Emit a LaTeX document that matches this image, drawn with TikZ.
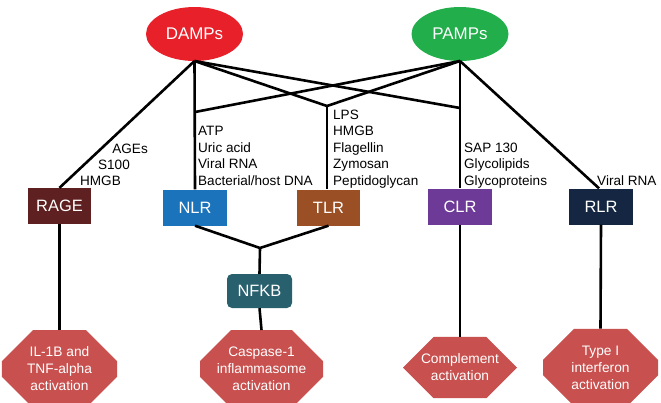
\documentclass[tikz,border=0pt]{standalone}
\usepackage{fontspec}
\setmainfont{Liberation Sans}
\usetikzlibrary{shapes.geometric,shapes.misc}
\definecolor{dampred}{HTML}{E8202A}
\definecolor{pampgreen}{HTML}{21AE4B}
\definecolor{ragec}{HTML}{5E2020}
\definecolor{nlrc}{HTML}{1B74BB}
\definecolor{tlrc}{HTML}{9B4F25}
\definecolor{clrc}{HTML}{6E3A97}
\definecolor{rlrc}{HTML}{142641}
\definecolor{nfkbc}{HTML}{28606E}
\definecolor{octc}{HTML}{C8504E}
\tikzset{
  pamp/.style={ellipse, minimum width=97bp, minimum height=54bp, inner sep=0pt, text=white,
    font=\fontsize{17}{20}\selectfont},
  recbox/.style={rectangle, minimum width=64bp, minimum height=36bp, inner sep=0pt, text=white,
    font=\fontsize{16.5}{19}\selectfont},
  outcome/.style={chamfered rectangle, chamfered rectangle xsep=14bp, chamfered rectangle ysep=17bp,
    fill=octc, minimum height=62bp, inner sep=0pt, text=white, align=center,
    font=\fontsize{13.8}{17}\selectfont},
  lig/.style={anchor=base west, inner sep=0pt, font=\fontsize{13.6}{16}\selectfont},
  ligr/.style={anchor=base east, inner sep=0pt, font=\fontsize{13.6}{16}\selectfont},
  conn/.style={line width=2.6bp, black, line join=miter}
}
\begin{document}
\begin{tikzpicture}[x=1bp,y=-1bp]
\useasboundingbox (0,0) rectangle (661,402);
% sources
\node[pamp, fill=dampred] (damps) at (194.5,34) {DAMPs};
\node[pamp, fill=pampgreen] (pamps) at (460,34) {PAMPs};
\coordinate (db) at (194.5,61);
\coordinate (pb) at (460,61);
% receptors
\node[recbox, fill=ragec, minimum width=63bp] (rage) at (59.5,206) {RAGE};
\node[recbox, fill=nlrc] (nlr) at (195,207.5) {NLR};
\node[recbox, fill=tlrc, minimum width=63bp] (tlr) at (328.5,207.5) {TLR};
\node[recbox, fill=clrc] (clr) at (460,206.5) {CLR};
\node[recbox, fill=rlrc] (rlr) at (601,206.5) {RLR};
\node[recbox, fill=nfkbc, minimum width=65bp, minimum height=34bp, rounded corners=5bp] (nfkb) at (259.5,291) {NFKB};
% outcomes
\node[outcome, minimum width=115bp] (o1) at (59.5,369) {IL-1B and\\TNF-alpha\\activation};
\node[outcome, minimum width=123bp] (o2) at (261.5,369) {Caspase-1\\inflammasome\\activation};
\node[outcome, minimum width=114bp, minimum height=61bp] (o3) at (460,367.5) {Complement\\activation};
\node[outcome, minimum width=115bp, minimum height=61bp] (o4) at (600.5,367.5) {Type I\\interferon\\activation};
% junctions
\coordinate (jn) at (195,112);
\coordinate (jt) at (327,106);
\coordinate (jc) at (460,108);
\coordinate (jk) at (260,248);
% connectors
\draw[conn] (db) -- (rage.north);
\draw[conn] (db) -- (nlr.north);
\draw[conn] (db) -- (jt);
\draw[conn] (db) -- (jc);
\draw[conn] (pb) -- (jn);
\draw[conn] (pb) -- (jt);
\draw[conn] (pb) -- (clr.north);
\draw[conn] (pb) -- (rlr.north west -| 599,0);
\draw[conn] (jt) -- (jt |- tlr.north);
\draw[conn] (rage.south) -- (o1.north);
\draw[conn] (nlr.south) -- (jk) -- (tlr.south);
\draw[conn] (jk) -- (nfkb.north);
\draw[conn] (nfkb.south) -- (o2.north);
\draw[conn] (clr.south) -- (o3.north);
\draw[conn] (rlr.south) -- (o4.north);
% ligand labels
\node[ligr] (l1) at (148,153) {AGEs};
\node[ligr] (l2) at (130,169) {S100};
\node[ligr] (l3) at (121,185) {HMGB};
\node[lig] (n1) at (198,135) {ATP};
\node[lig] (n2) at (198,152) {Uric acid};
\node[lig] (n3) at (198,168) {Viral RNA};
\node[lig] (n4) at (198,185) {Bacterial/host DNA};
\node[lig] (t1) at (333,119) {LPS};
\node[lig] (t2) at (333,135) {HMGB};
\node[lig] (t3) at (333,152) {Flagellin};
\node[lig] (t4) at (333,168) {Zymosan};
\node[lig] (t5) at (333,185) {Peptidoglycan};
\node[lig] (c1) at (464,152) {SAP 130};
\node[lig] (c2) at (464,168) {Glycolipids};
\node[lig] (c3) at (464,185) {Glycoproteins};
\node[lig] (r1) at (597,185) {Viral RNA};
\end{tikzpicture}
\end{document}
